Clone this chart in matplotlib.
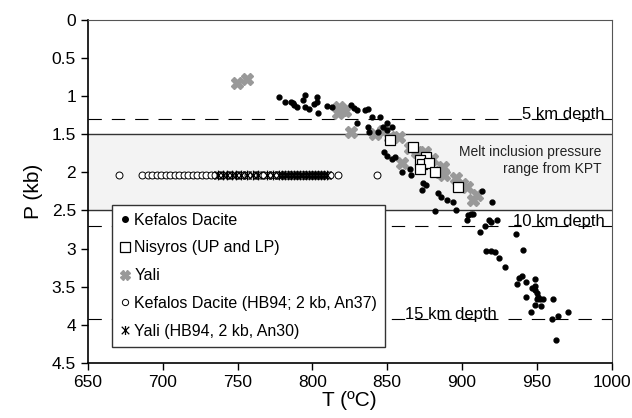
import matplotlib
matplotlib.use("Agg")
import matplotlib.pyplot as plt
from matplotlib.path import Path
from matplotlib.ticker import FuncFormatter

plt.rcParams["font.family"] = ["Liberation Sans", "DejaVu Sans"]

# Kefalos Dacite (T in C, P in kb)
kef_T = [778, 782, 787, 788, 786, 790, 795, 794, 795, 798, 803, 804, 803, 801, 810, 813,
         826, 828, 830, 835, 837, 840, 845, 830, 837, 838, 844, 847, 850, 850, 853,
         848, 850, 853, 855, 860, 865, 866, 874, 876, 873, 884, 886, 890, 894, 913, 920,
         882, 896, 904, 906, 907, 903, 915, 918, 919, 923, 912, 936, 916, 919, 922, 924.5,
         928.6, 941, 938, 940, 936.6, 943, 949, 946.6, 948.6, 949, 942.6, 950, 950, 952,
         954, 950.6, 960.6, 948.6, 953, 946, 970.6, 964, 960, 962.6]
kef_P = [1.01, 1.07, 1.09, 1.11, 1.07, 1.14, 0.98, 1.05, 1.14, 1.17, 1.01, 1.22, 1.07, 1.10, 1.13, 1.14,
         1.12, 1.16, 1.18, 1.18, 1.17, 1.27, 1.27, 1.35, 1.40, 1.47, 1.47, 1.40, 1.35, 1.44, 1.40,
         1.73, 1.78, 1.82, 1.80, 1.99, 1.95, 2.03, 2.14, 2.16, 2.23, 2.27, 2.32, 2.36, 2.39, 2.24, 2.39,
         2.51, 2.50, 2.56, 2.55, 2.54, 2.63, 2.70, 2.62, 2.65, 2.62, 2.78, 2.81, 3.03, 3.03, 3.05, 3.13,
         3.24, 3.02, 3.38, 3.36, 3.46, 3.44, 3.40, 3.52, 3.49, 3.54, 3.64, 3.58, 3.66, 3.66,
         3.66, 3.63, 3.66, 3.74, 3.75, 3.83, 3.83, 3.88, 3.92, 4.20]

# Nisyros (UP and LP)
nis_T = [852, 867, 876, 872, 873, 878, 872, 882, 897]
nis_P = [1.58, 1.67, 1.80, 1.84, 1.89, 1.88, 1.96, 2.00, 2.19]

# Yali
yali_T = [749.5, 756, 818, 820, 817, 822, 826, 847, 842, 852, 858, 865, 870, 875, 860,
          880, 887, 885, 888, 896, 900, 903, 910, 907]
yali_P = [0.83, 0.78, 1.14, 1.18, 1.22, 1.20, 1.47, 1.45, 1.49, 1.53, 1.53, 1.68, 1.73, 1.73, 1.88,
          1.83, 1.93, 2.00, 2.03, 2.07, 2.15, 2.19, 2.30, 2.36]

# HB94 thermometry at 2 kb
hb_kef_T = [671, 686, 690, 693, 696, 699, 702, 705, 708, 711, 714, 717, 720, 723, 726, 729,
            732, 735, 738, 744, 750, 754, 757, 762, 765, 768, 772, 776, 780, 785, 790, 795,
            800, 804, 808, 812, 817, 843]
hb_kef_P = [2.03] * len(hb_kef_T)
hb_yali_T = [737, 740, 743, 746, 749, 752, 756, 760, 764, 770, 774, 778, 780, 782, 784, 786,
             788, 790, 792, 794, 796, 798, 800, 802, 804, 806, 808, 810]
hb_yali_P = [2.03] * len(hb_yali_T)

depth_P = [1.3, 2.7, 3.93]
depth_labels = ["5 km depth", "10 km depth", "15 km depth"]
depth_label_T = [940, 934, 862]
kpt_range = [1.5, 2.5]

# X with a vertical bar through it
xbar = Path([(-1, -1), (1, 1), (-1, 1), (1, -1), (0, -1.2), (0, 1.2)],
            [Path.MOVETO, Path.LINETO, Path.MOVETO, Path.LINETO, Path.MOVETO, Path.LINETO])

fig = plt.figure(figsize=(6.32, 4.18), dpi=100)
ax = fig.add_axes([0.139, 0.132, 0.829, 0.820])

ax.axhspan(kpt_range[0], kpt_range[1], color="#f3f3f3", zorder=0)
for p in kpt_range:
    ax.axhline(p, color="#333333", lw=1.0, zorder=1)
for p, lab, t in zip(depth_P, depth_labels, depth_label_T):
    ax.axhline(p, color="black", lw=0.8, linestyle=(0, (12, 9)), zorder=1)
    ax.text(t, p, lab, fontsize=12, ha="left", va="baseline", zorder=2)

ax.text(993, 1.64, "Melt inclusion pressure\nrange from KPT", fontsize=10,
        ha="right", va="top", color="#222222", linespacing=1.25)

ax.plot(hb_kef_T, hb_kef_P, "o", ms=5, mfc="white", mec="black", mew=0.7,
        label="Kefalos Dacite (HB94; 2 kb, An37)", zorder=3)
ax.plot(hb_yali_T, hb_yali_P, marker=xbar, ls="none", ms=7, color="black", mew=0.9,
        label="Yali (HB94, 2 kb, An30)", zorder=3)
ax.plot(yali_T, yali_P, "X", ms=9, color="#999999", mec="#999999", label="Yali", zorder=4)
ax.plot(kef_T, kef_P, "o", ms=3.5, color="black", label="Kefalos Dacite", zorder=5)
ax.plot(nis_T, nis_P, "s", ms=7, mfc="white", mec="black", mew=0.9,
        label="Nisyros (UP and LP)", zorder=6)

ax.set_xlim(650, 1000)
ax.set_ylim(4.5, 0)
ax.set_xticks(range(650, 1001, 50))
ax.set_yticks([i * 0.5 for i in range(10)])
ax.yaxis.set_major_formatter(FuncFormatter(lambda v, pos: ("%g" % v)))
ax.tick_params(labelsize=12.5, direction="out", length=5, width=1, colors="black")
ax.set_xlabel("T (ºC)", fontsize=15, labelpad=1)
ax.set_ylabel("P (kb)", fontsize=15, labelpad=6)

for s in ["left", "bottom"]:
    ax.spines[s].set_linewidth(1.2)
for s in ["top", "right"]:
    ax.spines[s].set_color("#555555")
    ax.spines[s].set_linewidth(0.8)

handles, labels = ax.get_legend_handles_labels()
order = ["Kefalos Dacite", "Nisyros (UP and LP)", "Yali",
         "Kefalos Dacite (HB94; 2 kb, An37)", "Yali (HB94, 2 kb, An30)"]
hmap = dict(zip(labels, handles))
leg = ax.legend([hmap[k] for k in order], order, loc="lower left",
                bbox_to_anchor=(0.046, 0.047), fontsize=11.5, frameon=True, fancybox=False,
                edgecolor="#333333", framealpha=1, handlelength=0.6, handletextpad=0.3,
                labelspacing=0.8, borderpad=0.5, borderaxespad=0)
leg.get_frame().set_linewidth(1.0)
leg.set_zorder(10)
for h, size in zip(leg.legend_handles, [4, 6.5, 7, 4.5, 6.5]):
    h.set_markersize(size)

fig.savefig("out.png", dpi=100)
